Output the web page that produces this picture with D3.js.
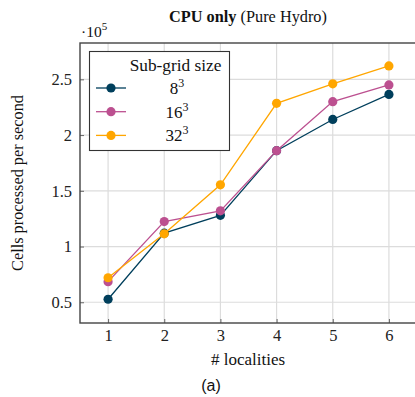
<!DOCTYPE html>
<html><head><meta charset="utf-8">
<script src="https://cdn.jsdelivr.net/npm/d3@7"></script>
<style>body{margin:0;background:#fff}svg{display:block}</style>
</head><body>
<svg id="c" width="415" height="397"></svg>
<script>
const localities = [1, 2, 3, 4, 5, 6];
const seriesNames = ["8", "16", "32"];
const s8  = [0.527, 1.12, 1.28, 1.86, 2.14, 2.365];
const s16 = [0.685, 1.224, 1.32, 1.86, 2.30, 2.45];
const s32 = [0.72, 1.114, 1.554, 2.285, 2.46, 2.62];
const yTicks = [0.5, 1, 1.5, 2, 2.5];
const colors = ["#003f5c", "#bc5090", "#ffa600"];

const svg = d3.select("#c");
const serif = "Liberation Serif, DejaVu Serif, serif";
const L = 80, R = 417, T = 43, B = 323;
const x = d3.scaleLinear().domain([0.5, 6.5]).range([L, R]);
const y = d3.scaleLinear().domain([0.314, 2.826]).range([B, T]);

// grid
const g = svg.append("g");
g.selectAll(".vg").data(localities).join("line")
  .attr("x1", d => x(d)).attr("x2", d => x(d)).attr("y1", T).attr("y2", B)
  .attr("stroke", "#dcdcdc").attr("stroke-width", 1.2);
g.selectAll(".hg").data(yTicks).join("line")
  .attr("x1", L).attr("x2", R).attr("y1", d => y(d)).attr("y2", d => y(d))
  .attr("stroke", "#dcdcdc").attr("stroke-width", 1.2);

// axes
const xAxis = d3.axisBottom(x).tickValues(localities).tickSize(-4).tickPadding(6).tickFormat(d3.format("d"));
const yAxis = d3.axisLeft(y).tickValues(yTicks).tickSize(-4).tickPadding(8).tickFormat(d => String(d));
const ax = svg.append("g").attr("transform", `translate(0,${B})`).call(xAxis);
const ay = svg.append("g").attr("transform", `translate(${L},0)`).call(yAxis);
[ax, ay].forEach(a => {
  a.select(".domain").remove();
  a.selectAll(".tick line").attr("stroke", "#666").attr("stroke-width", 1);
  a.selectAll("text").attr("font-family", serif).attr("font-size", 16.5).attr("fill", "#222");
});
// box
svg.append("rect").attr("x", L).attr("y", T).attr("width", R - L).attr("height", B - T)
  .attr("fill", "none").attr("stroke", "#444").attr("stroke-width", 1.4);

// series
const data = [s8, s16, s32];
const line = d3.line().x((d, i) => x(localities[i])).y(d => y(d));
data.forEach((s, k) => {
  svg.append("path").datum(s).attr("d", line).attr("fill", "none")
    .attr("stroke", colors[k]).attr("stroke-width", 1.3);
  svg.selectAll(null).data(s).join("circle")
    .attr("cx", (d, i) => x(localities[i])).attr("cy", d => y(d)).attr("r", 4.6)
    .attr("fill", colors[k]);
});

// legend
const lg = svg.append("g");
lg.append("rect").attr("x", 89.5).attr("y", 51.5).attr("width", 140).attr("height", 99)
  .attr("fill", "#fff").attr("stroke", "#333").attr("stroke-width", 1.1);
lg.append("text").attr("x", 175.5).attr("y", 71).attr("text-anchor", "middle")
  .attr("font-family", serif).attr("font-size", 17.3).attr("fill", "#111").text("Sub-grid size");
seriesNames.forEach((n, k) => {
  const yy = 88 + k * 23.7;
  lg.append("line").attr("x1", 96).attr("x2", 126).attr("y1", yy).attr("y2", yy)
    .attr("stroke", colors[k]).attr("stroke-width", 1.3);
  lg.append("circle").attr("cx", 111).attr("cy", yy).attr("r", 4.6).attr("fill", colors[k]);
  const t = lg.append("text").attr("x", 177).attr("y", yy + 6).attr("text-anchor", "middle")
    .attr("font-family", serif).attr("font-size", 17).attr("fill", "#111");
  t.append("tspan").text(n);
  t.append("tspan").attr("dy", -7).attr("font-size", 12).text("3");
});

// title
const tt = svg.append("text").attr("x", 248).attr("y", 22).attr("text-anchor", "middle")
  .attr("font-family", serif).attr("font-size", 16.3).attr("fill", "#111");
tt.append("tspan").attr("font-weight", "bold").text("CPU only");
tt.append("tspan").text(" (Pure Hydro)");

// exponent
const ex = svg.append("text").attr("x", 81).attr("y", 37)
  .attr("font-family", serif).attr("font-size", 15.5).attr("fill", "#111");
ex.append("tspan").text("·10");
ex.append("tspan").attr("dy", -7).attr("font-size", 11).text("5");

// axis labels
svg.append("text").attr("transform", "translate(23,183) rotate(-90)").attr("text-anchor", "middle")
  .attr("font-family", serif).attr("font-size", 16.3).attr("fill", "#111").text("Cells processed per second");
svg.append("text").attr("x", 248).attr("y", 365).attr("text-anchor", "middle")
  .attr("font-family", serif).attr("font-size", 17).attr("fill", "#111").text("# localities");
svg.append("text").attr("x", 211).attr("y", 391).attr("text-anchor", "middle")
  .attr("font-family", "Liberation Sans, Arial, sans-serif").attr("font-size", 16).attr("fill", "#111").text("(a)");
</script>
</body></html>
